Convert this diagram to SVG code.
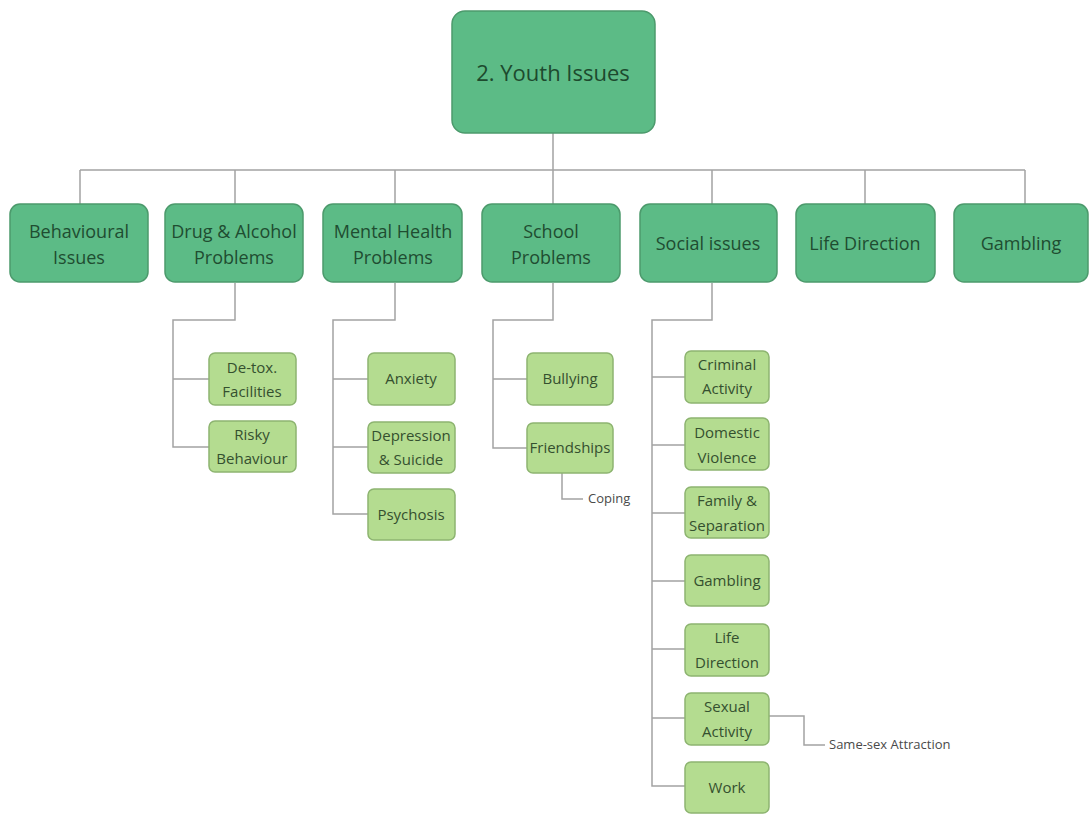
<svg xmlns="http://www.w3.org/2000/svg" width="1089" height="815" viewBox="0 0 1089 815">
  <style>
    .wire { fill: none; stroke: #a3a3a3; stroke-width: 1.5; }
    .main { fill: #5cbb86; stroke: #4c9a6c; stroke-width: 1.5; }
    .sub { fill: #b4dc90; stroke: #8db470; stroke-width: 1.5; }
    .t-root { font-family: "Open Sans", "Liberation Sans", sans-serif; font-size: 22px; fill: #1d4a2e; text-anchor: middle; }
    .t-main { font-family: "Open Sans", "Liberation Sans", sans-serif; font-size: 18px; fill: #1f4d31; text-anchor: middle; }
    .t-sub { font-family: "Open Sans", "Liberation Sans", sans-serif; font-size: 15px; fill: #34502f; text-anchor: middle; }
    .t-note { font-family: "Open Sans", "Liberation Sans", sans-serif; font-size: 13px; fill: #4a4a4a; }
  </style>
  <rect width="1089" height="815" fill="#ffffff"/>

  <!-- connectors -->
  <g id="connectors">
    <path class="wire" d="M553 133 V170 M80 170 H1025 M80 170 V204 M235 170 V204 M395 170 V204 M553 170 V204 M712 170 V204 M865 170 V204 M1025 170 V204"/>
    <!-- Drug & Alcohol Problems -->
    <path class="wire" d="M235 283 V320 H173 V447 H209 M173 379 H209"/>
    <!-- Mental Health Problems -->
    <path class="wire" d="M395 283 V320 H333 V514 H368 M333 379 H368 M333 447 H368"/>
    <!-- School Problems -->
    <path class="wire" d="M553 283 V320 H493 V448 H527 M493 379 H527"/>
    <path class="wire" d="M562 473 V499 H583"/>
    <!-- Social issues -->
    <path class="wire" d="M712 283 V320 H652 V786 H685 M652 377 H685 M652 445 H685 M652 513 H685 M652 581 H685 M652 649 H685 M652 718 H685"/>
    <path class="wire" d="M769 716 H804 V745 H825"/>
  </g>

  <!-- root -->
  <g id="youth-issues">
    <rect class="main" x="452" y="11" width="203" height="122" rx="13"/>
    <text class="t-root" x="553" y="81">2. Youth Issues</text>
  </g>

  <!-- first level -->
  <g id="behavioural-issues">
    <rect class="main" x="10" y="204" width="138" height="78" rx="10"/>
    <text class="t-main" x="79" y="238">Behavioural</text>
    <text class="t-main" x="79" y="264">Issues</text>
  </g>
  <g id="drug-alcohol">
    <rect class="main" x="165" y="204" width="138" height="78" rx="10"/>
    <text class="t-main" x="234" y="238">Drug &amp; Alcohol</text>
    <text class="t-main" x="234" y="264">Problems</text>
  </g>
  <g id="mental-health">
    <rect class="main" x="323" y="204" width="139" height="78" rx="10"/>
    <text class="t-main" x="393" y="238">Mental Health</text>
    <text class="t-main" x="393" y="264">Problems</text>
  </g>
  <g id="school-problems">
    <rect class="main" x="482" y="204" width="138" height="78" rx="10"/>
    <text class="t-main" x="551" y="238">School</text>
    <text class="t-main" x="551" y="264">Problems</text>
  </g>
  <g id="social-issues">
    <rect class="main" x="640" y="204" width="137" height="78" rx="10"/>
    <text class="t-main" x="708" y="250">Social issues</text>
  </g>
  <g id="life-direction">
    <rect class="main" x="796" y="204" width="139" height="78" rx="10"/>
    <text class="t-main" x="865" y="250">Life Direction</text>
  </g>
  <g id="gambling">
    <rect class="main" x="954" y="204" width="134" height="78" rx="10"/>
    <text class="t-main" x="1021" y="250">Gambling</text>
  </g>

  <!-- Drug & Alcohol children -->
  <g id="detox">
    <rect class="sub" x="209" y="353" width="87" height="52" rx="6"/>
    <text class="t-sub" x="252" y="373">De-tox.</text>
    <text class="t-sub" x="252" y="397">Facilities</text>
  </g>
  <g id="risky-behaviour">
    <rect class="sub" x="209" y="421" width="87" height="51" rx="6"/>
    <text class="t-sub" x="252" y="440">Risky</text>
    <text class="t-sub" x="252" y="464">Behaviour</text>
  </g>

  <!-- Mental Health children -->
  <g id="anxiety">
    <rect class="sub" x="368" y="353" width="87" height="52" rx="6"/>
    <text class="t-sub" x="411" y="384">Anxiety</text>
  </g>
  <g id="depression">
    <rect class="sub" x="368" y="422" width="87" height="51" rx="6"/>
    <text class="t-sub" x="411" y="441">Depression</text>
    <text class="t-sub" x="411" y="465">&amp; Suicide</text>
  </g>
  <g id="psychosis">
    <rect class="sub" x="368" y="489" width="87" height="51" rx="6"/>
    <text class="t-sub" x="411" y="520">Psychosis</text>
  </g>

  <!-- School children -->
  <g id="bullying">
    <rect class="sub" x="527" y="353" width="86" height="52" rx="6"/>
    <text class="t-sub" x="570" y="384">Bullying</text>
  </g>
  <g id="friendships">
    <rect class="sub" x="527" y="423" width="86" height="50" rx="6"/>
    <text class="t-sub" x="570" y="453">Friendships</text>
  </g>
  <g id="coping">
    <text class="t-note" x="588" y="503">Coping</text>
  </g>

  <!-- Social children -->
  <g id="criminal-activity">
    <rect class="sub" x="685" y="351" width="84" height="52" rx="6"/>
    <text class="t-sub" x="727" y="370">Criminal</text>
    <text class="t-sub" x="727" y="394">Activity</text>
  </g>
  <g id="domestic-violence">
    <rect class="sub" x="685" y="418" width="84" height="52" rx="6"/>
    <text class="t-sub" x="727" y="438">Domestic</text>
    <text class="t-sub" x="727" y="463">Violence</text>
  </g>
  <g id="family-separation">
    <rect class="sub" x="685" y="487" width="84" height="51" rx="6"/>
    <text class="t-sub" x="727" y="506">Family &amp;</text>
    <text class="t-sub" x="727" y="531">Separation</text>
  </g>
  <g id="social-gambling">
    <rect class="sub" x="685" y="555" width="84" height="51" rx="6"/>
    <text class="t-sub" x="727" y="586">Gambling</text>
  </g>
  <g id="social-life-direction">
    <rect class="sub" x="685" y="624" width="84" height="52" rx="6"/>
    <text class="t-sub" x="727" y="643">Life</text>
    <text class="t-sub" x="727" y="668">Direction</text>
  </g>
  <g id="sexual-activity">
    <rect class="sub" x="685" y="693" width="84" height="52" rx="6"/>
    <text class="t-sub" x="727" y="712">Sexual</text>
    <text class="t-sub" x="727" y="737">Activity</text>
  </g>
  <g id="same-sex-attraction">
    <text class="t-note" x="829" y="749">Same-sex Attraction</text>
  </g>
  <g id="work">
    <rect class="sub" x="685" y="762" width="84" height="51" rx="6"/>
    <text class="t-sub" x="727" y="793">Work</text>
  </g>
</svg>
